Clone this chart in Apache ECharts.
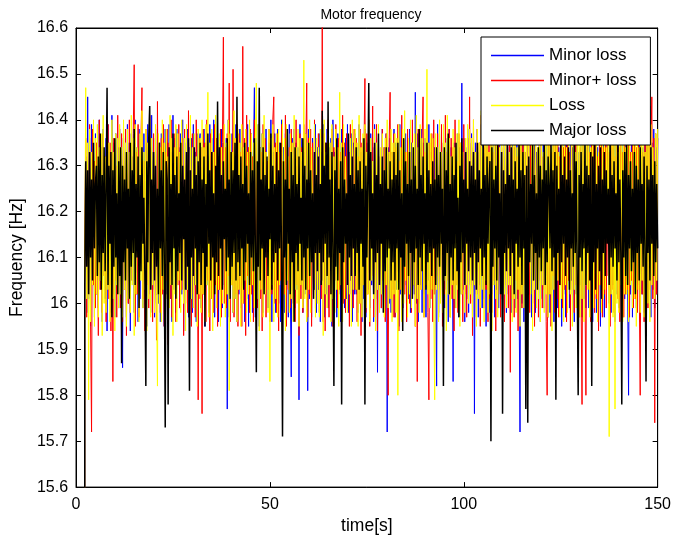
<!DOCTYPE html>
<html>
<head>
<meta charset="utf-8">
<script src="https://cdn.jsdelivr.net/npm/echarts@6/dist/echarts.min.js"></script>
<style>
html,body{margin:0;padding:0;background:#fff;}
#chart{width:674px;height:540px;}
</style>
</head>
<body>
<div id="chart"></div>
<script>
// sample grid: first sample at t = 2 s, one sample every 0.25 s, up to 150 s
const tStart = 2, tStep = 0.25;
const xTicks = [0, 50, 100, 150];
const yTicks = [15.6, 15.7, 15.8, 15.9, 16.0, 16.1, 16.2, 16.3, 16.4, 16.5, 16.6];
const seriesNames = ['Minor loss', 'Minor+ loss', 'Loss', 'Major loss'];

const minorLoss = [
0,16.03,16.32,15.98,16.45,16.01,16.36,15.95, 16.39,16.04,16.33,15.97,16.37,16.02,16.35,15.99, 16.40,16.05,16.34,15.96,16.38,16.23,16.01,16.36, 15.94,16.39,16.03,16.33,15.98,16.41,16.02,16.35, 15.97,16.37,16.04,16.34,15.99,16.38,16.01,16.36,
15.86,16.36,16.03,16.33,15.97,16.39,16.00,16.35, 15.94,16.37,16.05,16.32,15.98,16.40,16.02,16.34, 15.96,16.38,16.01,16.33,16.18,15.99,16.37,16.04, 16.35,15.95,16.39,16.02,16.34,15.98,16.41,16.03, 16.36,15.97,16.33,16.05,16.38,16.00,16.35,15.96,
16.37,16.04,16.34,15.95,16.38,16.02,16.35,15.97, 16.39,16.01,16.33,15.96,16.41,16.03,16.36,15.98, 16.38,16.05,16.34,15.99,16.37,16.02,16.40,15.94, 16.35,16.21,16.03,16.38,15.97,16.34,16.01,16.36, 15.98,16.39,16.04,16.33,15.96,16.37,16.02,16.35,
16.37,15.99,16.34,16.02,16.38,15.95,16.35,16.04, 16.32,15.98,16.39,16.01,16.36,16.03,16.40,15.97, 16.33,16.05,16.37,15.96,16.34,16.02,16.38,15.99, 16.35,16.04,16.20,16.36,15.77,16.40,15.97,16.33, 16.05,16.37,15.98,16.34,16.01,16.39,15.96,16.35,
16.02,16.38,15.99,16.34,16.04,16.33,15.96,16.36, 16.01,16.39,15.95,16.34,16.03,16.37,15.98,16.32, 16.47,15.97,16.36,16.01,16.39,15.95,16.34,16.03, 16.37,15.98,16.32,16.05,16.38,16.17,15.99,16.35, 16.02,16.40,15.96,16.33,16.04,16.37,15.98,16.35,
16.38,16.00,16.35,15.96,16.40,16.03,16.34,15.98, 16.37,16.02,16.33,15.97,16.39,16.04,15.84,16.36, 16.01,16.38,15.99,16.35,16.03,16.34,15.79,16.39, 16.04,16.36,15.98,16.33,16.02,16.37,16.35,15.81, 16.38,16.01,16.34,15.97,16.36,16.22,16.03,16.39,
15.98,16.34,16.03,16.37,15.96,16.33,16.05,16.39, 15.97,16.35,16.02,16.38,15.99,16.34,16.04,16.36, 15.95,16.40,16.01,16.33,16.19,15.97,16.37,16.02, 16.35,15.96,16.38,16.04,16.34,15.99,16.36,16.01, 16.39,15.98,16.33,16.05,16.37,15.96,16.35,16.02,
16.37,16.02,16.34,15.98,16.39,16.04,16.33,15.96, 16.36,16.01,16.38,15.97,16.35,16.03,16.32,15.99, 16.37,16.04,16.34,15.96,16.39,16.01,16.36,15.85, 16.35,16.03,16.32,15.99,16.38,16.02,16.34,16.05, 16.37,15.72,16.34,16.00,16.36,15.98,16.33,16.03,
16.38,15.97,16.35,16.03,16.33,15.95,16.39,16.02, 16.36,15.99,16.34,16.04,16.37,15.96,16.33,16.01, 16.38,15.98,16.35,16.03,16.18,16.02,16.46,16.00, 16.37,15.96,16.33,16.04,16.38,15.98,16.35,16.02, 16.36,15.97,16.34,16.05,16.39,15.99,16.33,16.03,
16.36,16.02,16.34,16.04,15.82,16.39,15.97,16.33, 16.01,16.37,16.05,16.35,15.99,16.32,16.03,16.36, 15.96,16.38,16.02,16.34,16.23,15.83,16.35,15.99, 16.32,16.04,16.37,15.97,16.34,16.02,16.48,16.03, 16.36,15.96,16.34,16.01,16.38,15.98,16.35,16.04,
16.37,16.02,16.34,15.76,16.35,16.02,16.38,15.97, 16.33,16.04,16.39,15.99,16.36,16.01,16.34,15.95, 16.37,16.03,16.32,15.98,16.40,16.02,16.35,16.20, 15.97,16.38,16.03,16.34,15.99,16.36,16.01,16.33, 15.96,16.39,16.04,16.35,15.98,16.37,16.02,16.34,
16.35,15.98,16.38,16.03,16.34,15.99,16.36,16.01, 16.39,16.04,15.72,16.36,16.00,16.39,15.96,16.33, 16.04,16.37,15.99,16.35,16.02,16.38,15.97,16.34, 16.05,16.36,15.98,16.33,16.19,16.03,16.39,15.96, 16.35,16.01,16.37,15.99,16.34,16.04,16.38,15.97,
16.36,15.98,16.33,16.03,16.39,15.96,16.35,16.01, 16.37,15.99,16.34,16.04,16.38,15.95,16.36,16.02, 16.33,15.97,16.40,16.03,16.35,15.99,16.37,16.05, 16.34,16.22,15.96,16.38,16.02,16.36,15.98,16.33, 16.04,16.39,15.97,16.35,16.01,16.37,15.99,16.34,
16.35,15.99,16.37,16.04,16.33,15.96,16.39,16.01, 16.36,15.98,16.34,16.03,16.38,15.95,16.35,16.02, 16.37,15.97,16.33,16.05,16.39,16.18,16.00,16.36, 15.98,16.34,16.04,16.38,15.96,16.35,16.02,16.37, 15.99,16.33,16.05,16.39,15.97,16.36,16.01,16.34,
16.36,16.03,15.80,16.34,16.02,16.38,15.97,16.35, 16.01,16.37,15.99,16.33,16.04,16.39,15.96,16.36, 16.02,16.34,15.98,16.38,16.03,16.35,16.00,16.37, 16.43,15.97,16.35,16.03,16.38,15.99,16.34,16.02, 16.36
];

const minorPlusLoss = [
0,16.12,16.36,15.97,16.33,16.02,16.39,15.95, 15.72,16.38,16.04,16.31,15.99,16.35,16.21,15.93, 16.40,16.03,16.34,15.98,16.37,16.06,16.32,15.96, 16.18,16.39,16.01,16.35,15.94,16.33,15.83,16.36, 16.05,16.30,15.97,16.41,16.02,16.34,15.99,16.37,
15.96,16.35,16.03,16.38,15.93,16.32,16.00,16.40, 15.98,16.34,16.05,16.37,16.52,15.95,16.33,16.02, 16.39,15.97,16.24,16.36,16.47,16.01,16.31,15.94, 16.38,16.04,16.35,15.99,16.41,16.03,16.33,15.96, 16.37,16.00,16.34,15.92,16.44,16.06,16.32,15.98,
16.36,16.02,16.39,15.95,16.33,16.05,16.38,15.91, 16.35,16.01,16.40,15.97,16.32,16.15,16.37,15.96, 16.34,16.04,16.39,15.99,16.31,16.03,16.36,15.93, 16.38,16.00,16.33,15.98,16.42,16.05,16.35,15.95, 16.37,16.02,16.34,15.97,16.40,16.20,15.79,16.36,
16.01,16.34,15.76,16.38,16.02,16.35,15.96,16.40, 16.05,16.31,15.94,16.37,16.01,16.33,15.98,16.39, 16.04,16.36,15.95,16.32,16.03,16.38,15.97,16.35, 16.58,16.00,16.34,15.99,16.37,16.06,16.48,15.96, 16.33,16.04,16.51,15.97,16.36,16.02,16.39,15.95,
16.37,16.03,16.33,15.95,16.56,16.00,16.36,15.93, 16.41,16.06,16.34,15.98,16.38,16.02,16.32,15.96, 16.40,16.04,16.35,15.99,16.22,16.37,16.01,16.33, 15.94,16.39,16.05,16.36,15.97,16.31,16.03,16.38, 15.96,16.34,16.02,16.40,16.45,16.00,16.35,15.98,
16.37,15.94,16.33,16.05,16.39,15.97,16.31,16.02, 16.41,15.95,16.36,16.03,16.34,15.99,16.38,16.17, 16.00,16.35,15.96,16.40,16.04,16.32,15.93,16.37, 16.01,16.34,15.98,16.39,16.05,16.33,16.48,15.97, 16.36,16.02,16.38,15.95,16.35,16.03,16.40,15.99,
16.34,16.04,16.37,15.98,16.33,16.01,16.61,15.96, 16.37,15.94,16.35,16.06,16.40,15.97,16.32,16.02, 16.38,15.95,16.34,16.05,16.39,16.19,15.99,16.36, 16.03,16.33,15.96,16.41,16.00,16.35,15.98,16.37, 16.04,16.32,15.95,16.39,16.02,16.34,15.99,16.38,
16.03,16.36,15.96,16.32,16.00,16.38,15.93,16.35, 16.04,16.33,16.49,15.98,16.37,16.02,16.40,15.95, 16.33,16.06,16.43,15.97,16.35,16.01,16.39,15.94, 16.36,16.03,16.32,15.99,16.38,16.05,16.34,15.96, 16.37,16.02,15.80,16.35,16.46,16.01,16.33,15.97,
16.37,15.97,16.34,16.05,16.39,15.94,16.31,16.03, 16.41,15.99,16.36,16.02,16.33,15.96,16.38,16.16, 16.00,16.35,15.98,16.40,16.04,16.32,15.95,16.37, 15.83,16.38,16.00,16.34,16.03,16.36,16.45,15.97, 16.33,16.04,16.39,15.98,15.79,16.35,16.01,16.37,
15.96,16.40,16.02,16.34,16.06,16.37,15.98,16.32, 16.03,16.39,15.95,16.35,16.02,16.41,15.99,16.33, 16.05,16.38,15.97,16.36,16.01,16.34,15.94,16.40, 16.04,16.31,15.98,16.37,16.03,16.35,16.23,15.96, 16.39,16.02,16.33,15.97,16.36,16.04,16.45,16.00,
16.36,15.93,16.40,16.04,16.33,15.97,16.38,16.02, 16.35,15.95,16.41,16.06,16.32,15.99,16.37,16.03, 16.34,15.96,16.39,16.01,16.36,15.98,16.33,16.05, 16.40,15.94,16.35,16.02,16.38,16.18,15.97,16.34, 16.03,16.37,15.96,16.32,16.04,16.39,15.99,16.36,
15.85,16.37,16.01,16.34,15.97,16.40,16.05,16.32, 15.94,16.38,16.02,16.36,15.99,16.41,16.04,16.33, 15.96,16.39,16.03,16.35,15.98,16.37,16.21,16.00, 16.34,15.95,16.38,16.02,16.33,15.97,16.40,16.05, 16.36,15.99,16.32,16.03,16.39,15.96,15.80,16.35,
16.02,16.36,15.95,16.33,16.06,16.40,15.98,16.35, 16.01,16.38,15.97,16.32,16.04,16.41,15.99,16.34, 16.03,16.37,15.96,16.39,16.05,16.33,15.94,16.36, 16.02,16.40,15.98,16.35,16.04,16.38,16.20,15.97, 16.34,16.01,15.78,16.37,16.36,16.03,15.80,16.33,
16.39,16.03,16.33,15.96,16.37,16.05,16.35,15.98, 16.40,16.01,16.32,15.94,16.38,16.04,16.36,15.97, 16.34,16.02,16.41,15.99,16.35,16.06,16.33,15.95, 16.39,16.03,16.36,15.98,16.32,16.17,16.37,16.01, 16.34,15.96,16.40,16.04,16.33,15.97,16.38,16.02,
16.35,16.03,16.38,15.97,16.33,16.05,16.40,15.99, 16.36,16.01,16.34,15.98,16.39,16.04,15.80,16.37, 16.02,16.33,15.96,16.38,16.05,16.35,15.99,16.40, 16.03,16.34,16.45,16.01,16.36,15.74,16.37,16.02, 16.36
];

const lossValues = [
0,16.08,16.47,16.01,16.35,15.79,16.38,15.96, 16.33,16.04,16.40,15.95,16.36,16.02,16.39,15.97, 16.34,16.05,16.37,15.93,16.41,16.00,16.32,15.98, 16.38,16.03,16.35,15.96,16.19,16.40,16.01,16.33, 15.94,16.37,16.04,16.36,15.99,16.39,16.02,16.34,
15.97,16.40,16.03,16.35,15.95,16.38,16.01,16.33, 15.98,16.41,16.04,16.36,15.93,16.39,16.02,16.34, 16.16,15.96,16.37,16.05,16.42,15.99,16.33,16.03, 16.38,15.94,16.35,16.01,16.40,15.97,16.36,16.04, 16.32,15.98,16.39,16.02,15.82,16.37,16.00,16.34,
15.96,16.40,16.03,16.35,15.95,16.38,16.01,16.32, 15.99,16.41,16.04,16.36,15.93,16.34,16.02,16.39, 15.96,16.37,16.05,16.33,15.98,16.40,16.22,16.00, 16.36,15.94,16.39,16.03,16.35,15.97,16.41,16.01, 16.34,15.99,16.37,16.04,16.32,15.95,16.38,16.02,
16.36,15.98,16.40,16.02,16.34,15.96,16.39,16.04, 16.46,15.97,16.35,16.01,16.38,15.94,16.33,16.05, 16.41,15.99,16.36,16.03,16.37,15.95,16.34,16.00, 16.18,16.39,15.97,16.35,16.02,16.40,15.81,16.37, 16.04,16.33,15.98,16.42,16.01,16.36,15.96,16.38,
16.03,16.35,15.95,16.39,16.00,16.34,16.05,16.38, 15.98,16.33,16.02,16.40,15.96,16.37,16.04,16.35, 15.99,16.36,16.48,16.01,16.39,15.94,16.34,16.03, 16.37,15.97,16.41,16.02,16.33,16.21,15.98,16.38, 15.83,16.36,16.04,16.39,15.96,16.34,16.01,16.37,
15.97,16.38,16.04,16.33,15.99,16.40,16.02,16.36, 15.94,16.39,16.05,16.32,15.98,16.37,16.01,16.35, 15.96,16.41,16.03,16.34,16.00,16.38,15.95,16.36, 16.04,16.33,15.99,16.53,16.01,16.37,15.96,16.35, 16.03,16.40,15.98,16.34,16.20,16.05,16.39,15.97,
16.36,16.00,16.34,15.97,16.38,16.05,16.36,15.93, 16.40,16.02,16.33,15.99,16.37,16.04,16.35,15.96, 16.39,16.01,16.32,15.98,16.38,16.03,16.34,15.95, 16.46,16.04,16.35,15.96,16.39,16.01,16.32,16.17, 15.98,16.37,16.02,16.36,15.95,16.40,16.03,16.33,
16.38,16.03,16.35,15.95,16.41,16.00,16.34,15.97, 16.37,16.04,16.39,15.99,16.33,16.02,16.40,15.96, 16.36,16.05,16.31,16.01,16.38,15.94,16.35,16.03, 16.39,15.98,16.34,16.02,16.37,16.24,15.97,16.36, 16.04,16.40,15.99,16.33,16.01,16.38,15.96,16.35,
16.02,16.37,15.98,16.36,15.80,16.39,16.03,16.34, 15.96,16.38,16.00,16.42,16.05,16.33,15.97,16.36, 16.02,16.40,15.99,16.35,16.04,16.37,15.95,16.41, 16.01,16.34,15.98,16.39,16.03,16.36,16.19,15.97, 16.38,16.04,16.51,16.02,16.35,15.99,16.37,16.03,
16.36,16.01,15.79,16.37,16.03,16.34,15.96,16.40, 16.00,16.33,15.98,16.39,16.05,16.35,15.94,16.41, 16.02,16.36,15.97,16.32,16.04,16.38,16.01,16.34, 15.99,16.37,16.03,16.40,15.95,16.35,16.02,16.33, 16.16,15.98,16.36,16.04,16.39,16.00,16.38,16.02,
16.36,15.97,16.40,16.04,16.33,15.95,16.38,16.01, 16.35,15.99,16.42,16.03,16.34,15.96,16.37,16.05, 16.39,15.98,16.33,16.02,16.36,15.94,16.40,16.04, 16.35,16.01,16.38,15.97,16.22,16.34,16.03,16.37, 15.96,16.41,16.02,16.35,15.99,16.38,16.04,16.33,
16.04,16.38,15.96,16.35,16.01,16.41,15.98,16.34, 16.03,16.37,15.95,16.40,16.02,16.33,15.99,16.36, 16.05,16.39,15.97,16.35,16.18,16.02,16.38,15.94, 16.36,16.03,16.41,15.99,16.34,16.01,16.37,15.96, 16.39,16.04,16.33,15.98,16.36,16.02,16.40,15.97,
16.37,16.02,16.34,15.94,16.40,16.03,16.36,15.99, 16.38,16.05,16.33,15.97,16.41,16.01,16.35,15.96, 16.39,16.04,16.34,15.98,16.37,16.20,16.02,16.36, 15.95,16.40,16.03,16.33,15.99,16.38,16.05,16.35, 15.97,16.41,16.01,16.36,15.96,16.39,16.04,16.37,
16.03,16.40,15.97,16.34,16.05,16.38,15.99,16.36, 16.02,16.41,15.96,16.33,16.04,16.37,15.98,16.35, 16.01,16.39,16.03,16.34,16.19,16.36,15.71,16.38, 16.02,16.35,15.97,16.40,15.77,16.37,16.00,16.33, 15.98,16.39,16.04,16.35,15.96,16.38,16.02,16.34,
16.02,16.35,15.96,16.40,16.04,16.33,15.99,16.37, 16.01,16.36,15.95,16.39,16.03,16.34,15.98,16.41, 16.05,16.36,15.97,16.33,16.02,16.38,16.00,16.35, 15.96,16.39,16.04,16.34,16.21,16.01,16.37,16.05, 16.38
];

const majorLoss = [
0,16.04,16.31,16.08,16.29,16.02,16.33,16.10, 16.27,16.05,16.35,16.12,16.26,16.30,16.06,16.32, 16.09,16.37,16.03,16.28,16.11,16.34,16.07,16.25, 16.47,16.04,16.30,16.13,16.33,15.97,16.29,16.08, 16.36,16.10,16.24,16.02,16.31,16.06,16.34,15.87,
16.30,16.09,16.27,16.05,16.33,16.12,16.25,16.01, 16.35,16.08,16.29,16.11,16.38,16.04,16.26,16.10, 16.32,15.99,16.28,16.07,16.34,16.13,16.23,16.06, 15.82,16.31,16.09,16.36,16.43,16.03,16.27,16.11, 16.33,16.05,16.30,16.08,16.25,16.02,16.35,16.12,
16.29,16.06,16.33,16.10,15.73,16.31,16.27,15.78, 16.34,16.09,16.26,16.04,16.37,16.12,16.28,16.01, 16.32,16.07,16.24,16.11,16.35,16.05,16.30,16.14, 16.27,16.03,16.33,16.08,16.36,15.81,16.29,16.10, 16.25,16.06,16.34,16.12,16.28,16.02,16.31,16.09,
16.35,16.04,16.27,16.11,16.32,15.95,16.26,16.08, 16.37,16.13,16.29,16.05,16.33,16.10,16.24,16.02, 16.30,16.09,16.44,16.06,16.34,16.12,16.28,16.03, 16.31,16.14,16.25,16.07,16.36,16.10,16.27,16.01, 16.33,16.08,16.29,16.11,16.35,16.05,16.45,16.09,
16.28,16.06,16.32,16.12,16.26,16.03,16.35,16.09, 16.30,16.13,16.24,16.04,16.33,16.10,16.29,16.07, 16.36,16.11,15.85,16.31,16.08,16.47,16.05,16.27, 16.12,16.34,16.02,16.28,16.10,16.32,16.06,16.25, 16.14,16.37,16.03,16.30,16.09,16.26,16.11,16.33,
16.05,16.29,16.12,16.35,16.08,15.71,16.31,16.10, 16.27,16.04,16.38,16.13,16.25,16.02,16.33,16.09, 16.28,15.96,16.34,16.11,16.26,16.07,16.32,16.13, 16.23,16.05,16.36,16.10,16.30,16.03,16.27,16.12, 16.35,16.06,16.29,16.09,16.24,16.01,16.33,16.11,
16.28,16.07,16.32,16.11,16.26,16.04,16.42,16.09, 16.30,16.13,16.35,16.06,16.44,16.10,16.27,16.02, 16.33,16.12,15.82,16.29,16.08,16.36,16.05,16.25, 16.11,16.31,15.78,16.34,16.09,16.27,16.13,16.24, 16.04,16.37,16.10,16.28,16.06,16.32,16.12,16.26,
16.06,16.34,16.11,16.29,16.03,16.31,16.13,16.25, 16.08,16.36,15.78,16.30,16.10,16.27,16.48,16.05, 16.33,16.12,16.24,16.02,16.35,16.09,16.28,16.11, 16.37,16.04,16.26,16.13,16.32,15.98,16.29,16.07, 16.34,16.10,16.25,16.12,16.31,16.05,16.27,16.09,
16.33,16.05,16.28,16.12,16.35,16.03,16.29,16.10, 16.24,15.94,16.36,16.08,16.31,16.13,16.26,16.06, 16.33,16.11,16.27,16.01,16.34,16.09,16.30,16.12, 16.25,16.04,16.38,16.10,16.28,16.07,16.32,16.13, 16.24,16.03,16.35,16.09,16.29,16.11,16.26,16.06,
16.31,16.12,16.27,16.04,16.34,16.10,16.28,16.08, 16.33,16.13,16.25,15.82,16.34,16.06,16.29,16.11, 16.37,16.02,16.26,16.10,16.32,16.05,16.28,16.12, 16.35,16.07,16.23,15.97,16.30,16.09,16.36,16.11, 16.27,16.04,16.33,16.13,16.25,16.07,16.31,16.10,
16.30,16.05,16.33,16.11,16.27,16.03,16.35,16.09, 16.29,16.12,16.25,16.06,16.36,16.10,16.28,16.04, 16.32,16.13,16.26,16.31,15.70,16.34,16.08,16.27, 16.12,16.30,16.05,16.36,16.10,16.24,16.02,16.33, 15.76,16.29,16.11,16.26,16.07,16.35,16.12,16.28,
16.06,16.34,16.11,16.27,16.02,16.31,16.13,16.25, 16.08,16.36,16.10,16.29,16.04,16.33,16.12,16.28, 15.77,16.30,15.74,16.32,16.09,16.26,16.13,16.35, 16.05,16.28,16.11,16.24,16.03,16.34,16.10,16.30, 16.07,16.27,16.12,16.36,16.04,16.29,16.09,16.32,
16.26,16.12,16.35,16.07,16.29,16.10,16.33,15.79, 16.30,16.11,16.25,16.04,16.36,16.09,16.28,16.13, 16.32,16.06,16.27,16.10,16.34,16.03,16.29,16.12, 16.24,16.08,16.37,16.11,16.31,16.05,15.80,16.28, 16.10,16.33,16.07,16.26,16.12,16.35,16.04,16.30,
16.11,16.28,16.05,16.33,15.82,16.32,16.09,16.36, 16.03,16.26,16.12,16.30,16.07,16.34,16.01,16.27, 16.11,16.33,16.06,16.29,16.13,16.25,16.04,16.35, 16.10,16.28,16.08,16.31,16.12,16.24,16.05,16.36, 16.09,16.27,16.11,15.78,16.29,16.10,16.33,16.06,
16.35,16.04,16.28,16.12,16.31,16.07,16.25,16.09, 16.33,16.02,16.30,16.11,16.27,16.05,16.34,16.13, 16.26,16.08,16.32,16.10,15.83,16.30,16.11,16.27, 16.05,16.34,16.13,16.28,16.06,16.31,16.09,16.26, 16.12
];

const seriesValues = [minorLoss, minorPlusLoss, lossValues, majorLoss];
const seriesColors = ['#0000ff', '#ff0000', '#ffff00', '#000000'];
const seriesWidths = [1, 1, 1, 1.5];

const nSamples = Math.max(...seriesValues.map(a => a.length));
const time = [];
for (let i = 0; i < nSamples; i++) time.push(tStart + tStep * i);

function pairs(vals) {
  return vals.map((v, i) => [time[i], v]);
}

const fontFam = 'Liberation Sans, Arial, Helvetica, sans-serif';
const chart = echarts.init(document.getElementById('chart'), null, {renderer: 'canvas'});

const gridBox = {left: 75, top: 28, width: 583, height: 462};

const option = {
  animation: false,
  backgroundColor: '#ffffff',
  title: {
    text: 'Motor frequency',
    left: 366, top: 3, textAlign: 'center',
    textStyle: {fontFamily: fontFam, fontSize: 14, fontWeight: 'normal', color: '#000'}
  },
  legend: {
    data: seriesNames,
    orient: 'vertical',
    left: 481, top: 37,
    z: 20,
    icon: 'rect',
    itemWidth: 53, itemHeight: 1.5, itemGap: 8, itemTextGap: 6,
    padding: [10, 14, 6, 10],
    backgroundColor: '#ffffff',
    borderColor: '#000000', borderWidth: 1, borderRadius: 0,
    textStyle: {fontFamily: fontFam, fontSize: 17, color: '#000'}
  },
  grid: Object.assign({show: true, borderColor: '#000', borderWidth: 1, backgroundColor: 'transparent', containLabel: false}, gridBox),
  xAxis: [{
    type: 'value', min: xTicks[0], max: xTicks[xTicks.length - 1], interval: xTicks[1] - xTicks[0],
    name: 'time[s]', nameLocation: 'middle', nameGap: 26,
    nameTextStyle: {fontFamily: fontFam, fontSize: 17.5, color: '#000'},
    axisLine: {show: true, onZero: false, lineStyle: {color: '#000', width: 1}},
    axisTick: {show: true, inside: true, length: 5, lineStyle: {color: '#000'}},
    axisLabel: {fontFamily: fontFam, fontSize: 16, color: '#000', margin: 9},
    splitLine: {show: false}
  }, {
    type: 'value', position: 'top', min: xTicks[0], max: xTicks[xTicks.length - 1], interval: xTicks[1] - xTicks[0],
    axisLine: {show: true, onZero: false, lineStyle: {color: '#000'}},
    axisTick: {show: true, inside: true, length: 5, lineStyle: {color: '#000'}},
    axisLabel: {show: false}, splitLine: {show: false}
  }],
  yAxis: [{
    type: 'value', min: yTicks[0], max: yTicks[yTicks.length - 1], interval: 0.1,
    name: 'Frequency [Hz]', nameLocation: 'middle', nameGap: 47,
    nameTextStyle: {fontFamily: fontFam, fontSize: 17.5, color: '#000'},
    axisLine: {show: true, onZero: false, lineStyle: {color: '#000', width: 1}},
    axisTick: {show: true, inside: true, length: 5, lineStyle: {color: '#000'}},
    axisLabel: {fontFamily: fontFam, fontSize: 16, color: '#000', margin: 8,
      formatter: v => String(+(+v).toFixed(1))},
    splitLine: {show: false}
  }, {
    type: 'value', position: 'right', min: yTicks[0], max: yTicks[yTicks.length - 1], interval: 0.1,
    axisLine: {show: true, onZero: false, lineStyle: {color: '#000'}},
    axisTick: {show: true, inside: true, length: 5, lineStyle: {color: '#000'}},
    axisLabel: {show: false}, splitLine: {show: false}
  }],
  series: seriesNames.map((name, k) => ({
    name: name,
    type: 'line',
    data: pairs(seriesValues[k]),
    xAxisIndex: 0, yAxisIndex: 0,
    showSymbol: false, symbol: 'none',
    clip: true,
    lineStyle: {color: seriesColors[k], width: seriesWidths[k]},
    itemStyle: {color: seriesColors[k]},
    emphasis: {disabled: true},
    z: 2 + k
  }))
};
chart.setOption(option);
</script>
</body>
</html>
